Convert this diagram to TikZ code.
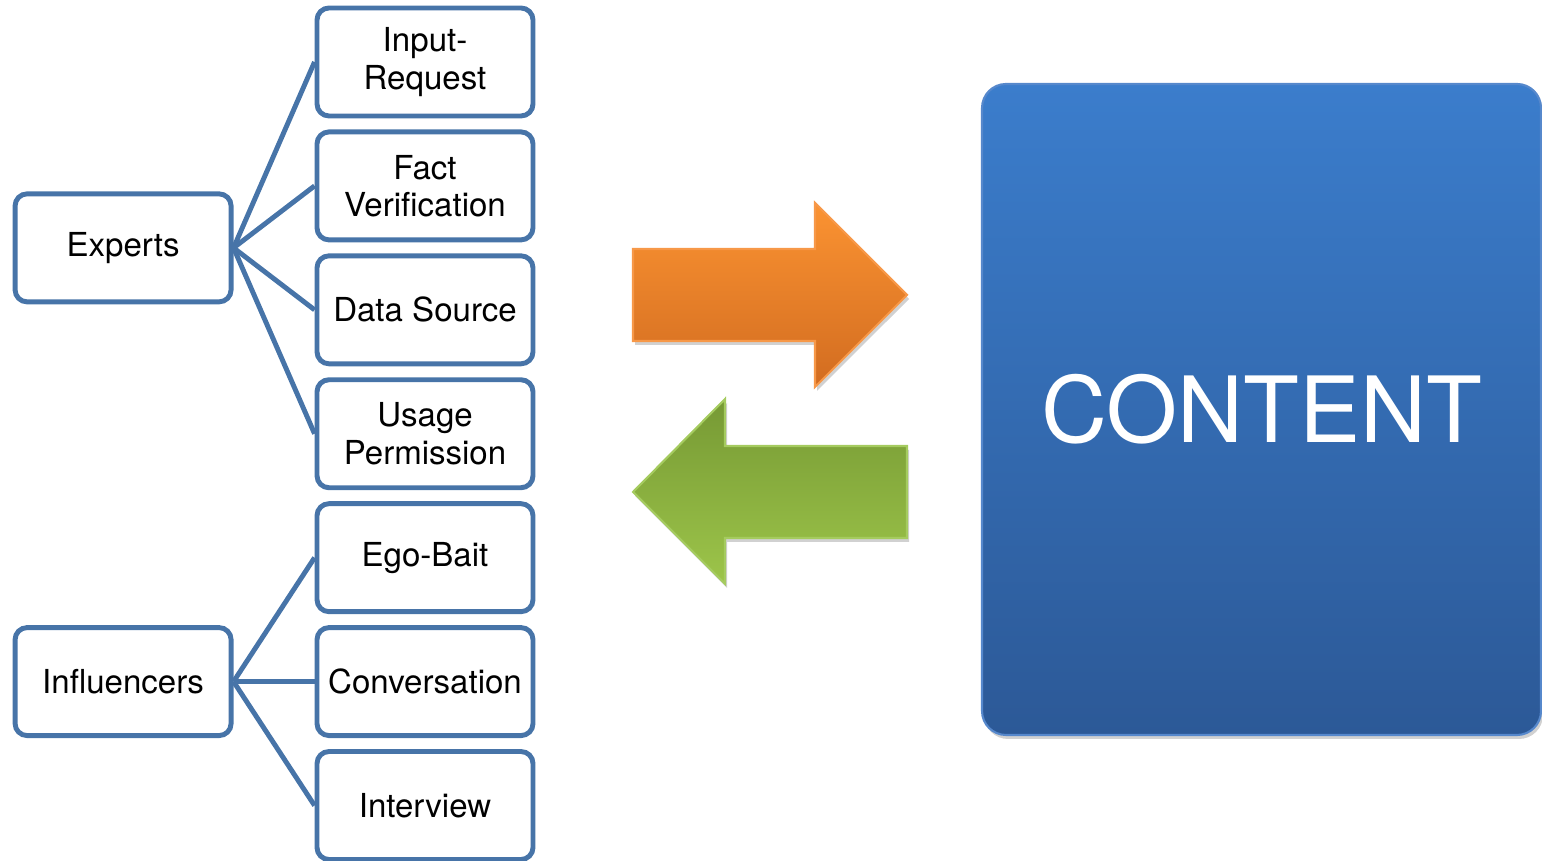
\documentclass[tikz,border=0pt]{standalone}
\usepackage{fontspec}
\setmainfont{TeX Gyre Heros}
\usetikzlibrary{positioning,calc,shadows}
\definecolor{boxblue}{RGB}{71,116,168}
\definecolor{orangetop}{RGB}{251,147,50}
\definecolor{orangebot}{RGB}{210,108,32}
\definecolor{orangeline}{RGB}{247,152,72}
\definecolor{greentop}{RGB}{118,153,52}
\definecolor{greenbot}{RGB}{157,197,74}
\definecolor{greenline}{RGB}{165,203,95}
\definecolor{contenttop}{RGB}{59,125,204}
\definecolor{contentbot}{RGB}{44,89,151}
\definecolor{contentline}{RGB}{86,136,204}

\begin{document}
\begin{tikzpicture}[font=\fontsize{9.4}{10.6}\selectfont,
  item/.style={rectangle, draw=boxblue, line width=1.4pt, fill=white, rounded corners=0.12cm,
    minimum width=2.16cm, minimum height=1.08cm, align=center, inner sep=1pt},
  link/.style={draw=boxblue, line width=1.4pt},
  softshadow/.style={drop shadow={shadow xshift=0.02cm, shadow yshift=-0.04cm, opacity=0.3, fill=black!60}}]
  \useasboundingbox (0,0) rectangle (15.42,8.61);

  % right column
  \node[item] (input) at (4.25,7.99) {Input-\\Request};
  \node[item, below=0.11cm of input] (fact) {Fact\\Verification};
  \node[item, below=0.11cm of fact] (datasrc) {Data Source};
  \node[item, below=0.11cm of datasrc] (usage) {Usage\\Permission};
  \node[item, below=0.11cm of usage] (egobait) {Ego-Bait};
  \node[item, below=0.11cm of egobait] (conv) {Conversation};
  \node[item, below=0.11cm of conv] (interview) {Interview};

  % left column
  \coordinate (expmid) at ($(fact.west)!0.5!(datasrc.west)$);
  \node[item, left=0.81cm of expmid] (experts) {Experts};
  \node[item, left=0.81cm of conv] (influencers) {Influencers};

  \draw[link] (experts.east) -- (input.west);
  \draw[link] (experts.east) -- (fact.west);
  \draw[link] (experts.east) -- (datasrc.west);
  \draw[link] (experts.east) -- (usage.west);
  \draw[link] (influencers.east) -- (egobait.west);
  \draw[link] (influencers.east) -- (conv.west);
  \draw[link] (influencers.east) -- (interview.west);

  % arrows
  \path[softshadow, top color=orangetop, bottom color=orangebot, draw=orangeline, line width=0.6pt]
    (6.33,6.12) -- (8.15,6.12) -- (8.15,6.58) -- (9.07,5.66) -- (8.15,4.74) -- (8.15,5.20) -- (6.33,5.20) -- cycle;
  \path[softshadow, top color=greentop, bottom color=greenbot, draw=greenline, line width=0.6pt]
    (9.07,4.15) -- (7.25,4.15) -- (7.25,4.62) -- (6.33,3.69) -- (7.25,2.77) -- (7.25,3.23) -- (9.07,3.23) -- cycle;

  % content block
  \node[rectangle, rounded corners=0.24cm, minimum width=5.59cm, minimum height=6.51cm,
    top color=contenttop, bottom color=contentbot, draw=contentline, line width=0.6pt,
    softshadow, text=white, font=\fontsize{26}{30}\selectfont] (content) at (12.615,4.515) {CONTENT};
\end{tikzpicture}
\end{document}
